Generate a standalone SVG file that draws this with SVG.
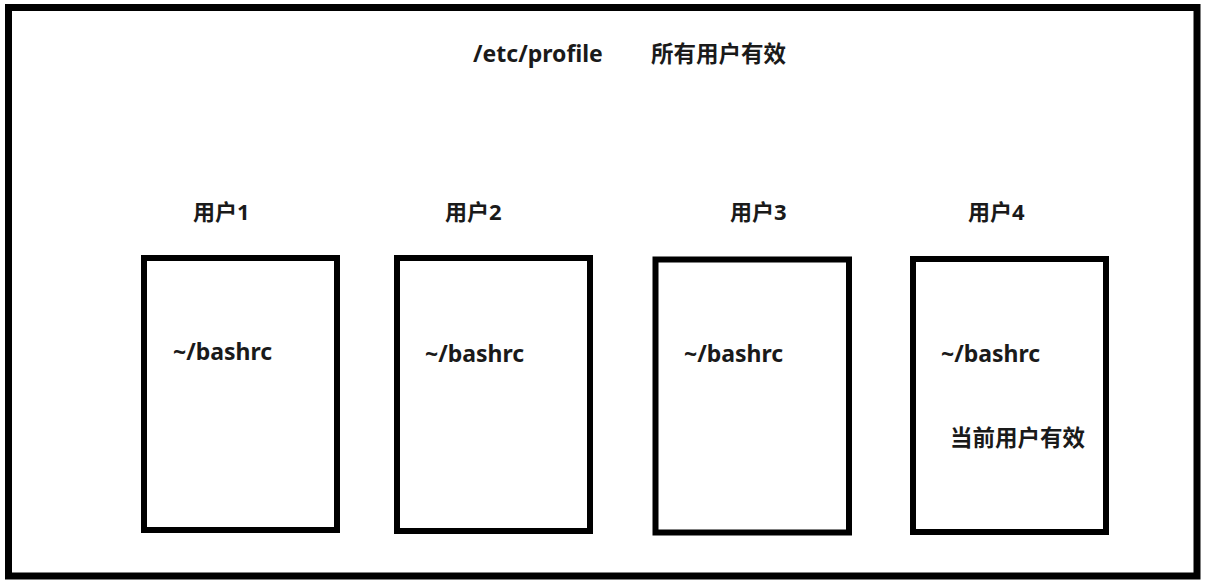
<svg xmlns="http://www.w3.org/2000/svg" width="1209" height="587" viewBox="0 0 1209 587">
<style>
.frame{fill:#fff;stroke:#000;stroke-width:7}
.box{fill:#fff;stroke:#000;stroke-width:6}
.t{font-family:"Noto Sans","Noto Sans CJK SC",sans-serif;font-weight:bold;fill:#1a1a1a}
.lat{font-size:23px}
.cjk{font-size:22.5px}
.lbl{font-size:22px}
</style>
<rect width="1209" height="587" fill="#fff"/>
<g id="outer">
<rect class="frame" x="8.5" y="7.5" width="1188.5" height="568.5"/>
<text class="t lat" x="473" y="62">/etc/profile</text>
<text class="t cjk" x="651" y="62">所有用户有效</text>
</g>
<g id="user1">
<text class="t lbl" x="193" y="220">用户1</text>
<rect class="box" x="144" y="258" width="193" height="272"/>
<text class="t lat" x="173" y="360">~/bashrc</text>
</g>
<g id="user2">
<text class="t lbl" x="445" y="220">用户2</text>
<rect class="box" x="397" y="258" width="193" height="273"/>
<text class="t lat" x="425" y="362">~/bashrc</text>
</g>
<g id="user3">
<text class="t lbl" x="730" y="220">用户3</text>
<rect class="box" x="655.5" y="259.5" width="193.5" height="273"/>
<text class="t lat" x="684" y="362">~/bashrc</text>
</g>
<g id="user4">
<text class="t lbl" x="968" y="220">用户4</text>
<rect class="box" x="913" y="259" width="193" height="273"/>
<text class="t lat" x="941" y="362">~/bashrc</text>
<text class="t cjk" x="950" y="446">当前用户有效</text>
</g>
<g id="connectors"></g>
</svg>
